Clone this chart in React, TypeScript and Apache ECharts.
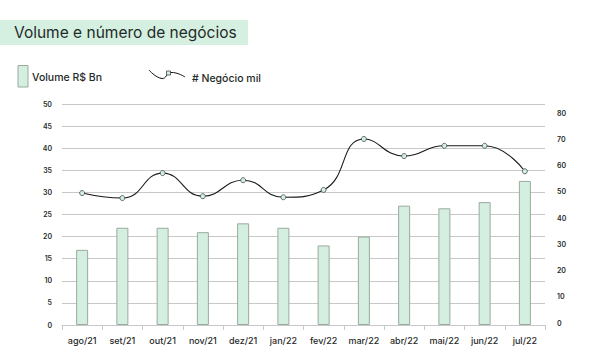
import React, { useEffect, useRef } from "react";
import * as echarts from "echarts";

const categories = ["ago/21", "set/21", "out/21", "nov/21", "dez/21", "jan/22", "fev/22", "mar/22", "abr/22", "mai/22", "jun/22", "jul/22"];
const volume = [17, 22, 22, 21, 23, 22, 18, 20, 27, 26.4, 27.8, 32.6];
const negocios = [49.5, 47.6, 57.1, 48.3, 54.4, 47.9, 50.7, 70.1, 63.6, 67.5, 67.5, 57.8];
const title = "Volume e número de negócios";
const legendBar = "Volume R$ Bn";
const legendLine = "# Negócio mil";

const FONT = "Inter";
const DARK = "#1f2a28";
const BAR_FILL = "#d4efe0";
const BAR_BORDER = "#9aaa9f";

export default function App() {
  const ref = useRef<HTMLDivElement>(null);
  useEffect(() => {
    if (!ref.current) return;
    const chart = echarts.init(ref.current, undefined, { renderer: "svg" });
    chart.setOption({
      animation: false,
      backgroundColor: "#ffffff",
      textStyle: { fontFamily: FONT },
      graphic: [
        { type: "rect", shape: { x: 0, y: 20, width: 248, height: 25 }, style: { fill: "#d5f0e1" } },
        { type: "text", x: 14, y: 32.5, style: { text: title, font: `400 15.5px ${FONT}`, fill: DARK, textVerticalAlign: "middle" } },
        { type: "rect", shape: { x: 18, y: 65.5, width: 10, height: 21.5 }, style: { fill: BAR_FILL, stroke: BAR_BORDER, lineWidth: 1 } },
        { type: "text", x: 32, y: 77.5, style: { text: legendBar, font: `500 10.5px ${FONT}`, fill: DARK, textVerticalAlign: "middle" } },
        { type: "polyline", shape: { points: [[149, 70], [162, 78.5], [171, 72.5], [185, 77]], smooth: 0.5 }, style: { stroke: "#111", lineWidth: 1, fill: null } },
        { type: "rect", shape: { x: 166.5, y: 71, width: 4, height: 4 }, style: { fill: BAR_FILL, stroke: "#445", lineWidth: 0.8 } },
        { type: "text", x: 192, y: 78, style: { text: legendLine, font: `500 10.5px ${FONT}`, fill: DARK, textVerticalAlign: "middle" } },
      ],
      grid: [
        { left: 62, right: 51, top: 104, bottom: 35 },
        { left: 62, right: 51, top: 113, bottom: 37 },
      ],
      xAxis: [
        {
          type: "category", gridIndex: 0, data: categories,
          axisLine: { show: true, lineStyle: { color: "#c8c8c8" } },
          axisTick: { show: true, length: 5, lineStyle: { color: "#c8c8c8" } },
          axisLabel: { color: DARK, fontSize: 9, fontWeight: 500, margin: 11, fontFamily: FONT },
        },
        { type: "category", gridIndex: 1, data: categories, show: false },
      ],
      yAxis: [
        {
          type: "value", gridIndex: 0, min: 0, max: 50, interval: 5, position: "left",
          axisLine: { show: false }, axisTick: { show: false },
          splitLine: { lineStyle: { color: "#c8c8c8", width: 1 } },
          axisLabel: { color: DARK, fontSize: 7, fontWeight: 600, margin: 10, fontFamily: FONT },
        },
        {
          type: "value", gridIndex: 1, min: 0, max: 80, interval: 10, position: "right",
          axisLine: { show: false }, axisTick: { show: false }, splitLine: { show: false },
          axisLabel: { color: DARK, fontSize: 7, fontWeight: 600, margin: 12, fontFamily: FONT },
        },
      ],
      series: [
        {
          type: "bar", xAxisIndex: 0, yAxisIndex: 0, data: volume, barWidth: 12,
          itemStyle: { color: BAR_FILL, borderColor: BAR_BORDER, borderWidth: 1 },
        },
        {
          type: "line", xAxisIndex: 1, yAxisIndex: 1, data: negocios, smooth: 0.5,
          symbol: "circle", symbolSize: 5,
          lineStyle: { color: "#1a1a1a", width: 1.1 },
          itemStyle: { color: BAR_FILL, borderColor: "#3d4a45", borderWidth: 0.8 },
        },
      ],
    });
    return () => chart.dispose();
  }, []);
  return <div ref={ref} style={{ width: 596, height: 360, position: "absolute", left: 0, top: 0 }} />;
}
